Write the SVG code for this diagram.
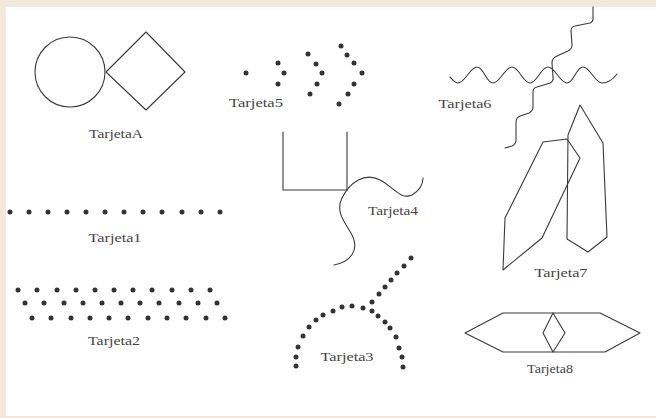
<svg xmlns="http://www.w3.org/2000/svg" width="656" height="418" viewBox="0 0 656 418">
<style>
.ln{fill:none;stroke:#3a3a3a;stroke-width:1.1;stroke-linejoin:round;stroke-linecap:round}
.d{fill:#333}
.t{font-family:"Liberation Serif","Times New Roman",serif;font-size:13px;fill:#444;text-anchor:middle}
</style>
<rect x="0" y="0" width="656" height="418" fill="#f3e8dc"/>
<rect x="6" y="7" width="650" height="409" fill="#ffffff"/>

<g id="tarjetaA">
<circle class="ln" cx="70" cy="72" r="35"/>
<polygon class="ln" points="106,72 146,32 185,72 146,110"/>
<text class="t" x="116" y="138" textLength="54" lengthAdjust="spacingAndGlyphs">TarjetaA</text>
</g>

<g id="tarjeta5">
<circle class="d" cx="246" cy="73" r="2.5"/>
<circle class="d" cx="278" cy="63" r="2.5"/>
<circle class="d" cx="284" cy="73" r="2.5"/>
<circle class="d" cx="278" cy="84" r="2.5"/>
<circle class="d" cx="308" cy="54" r="2.5"/>
<circle class="d" cx="316" cy="64" r="2.5"/>
<circle class="d" cx="322" cy="73" r="2.5"/>
<circle class="d" cx="317" cy="84" r="2.5"/>
<circle class="d" cx="310" cy="94" r="2.5"/>
<circle class="d" cx="341" cy="46" r="2.5"/>
<circle class="d" cx="347" cy="55" r="2.5"/>
<circle class="d" cx="354" cy="63" r="2.5"/>
<circle class="d" cx="362" cy="73" r="2.5"/>
<circle class="d" cx="354" cy="84" r="2.5"/>
<circle class="d" cx="348" cy="94" r="2.5"/>
<circle class="d" cx="339" cy="104" r="2.5"/>
<text class="t" x="256" y="107" textLength="54" lengthAdjust="spacingAndGlyphs">Tarjeta5</text>
</g>

<g id="tarjeta6">
<path class="ln" d="M450,77 C453,80 455,83 458,83 C465,83 470,67 477,67 S486,83 493,83 S505,67 512,67 S523,83 530,83 S541,67 548,67 S560,83 567,83 S576,67 583,67 S595,83 602,83 S614,78 617,74"/>
<path class="ln" d="M593,7 L593,19 Q593,22 590,23 L575,26 Q571,27 571,31 L572,45 Q572,49 568,51 L557,56 Q552,58 552,63 L553,77 Q554,81 550,83 L537,87 Q533,88 533,92 L533,107 Q533,111 529,113 L520,116 Q516,118 516,122 L516,140 Q516,144 512,146 L505,148"/>
<text class="t" x="465" y="108" textLength="53" lengthAdjust="spacingAndGlyphs">Tarjeta6</text>
</g>

<g id="tarjeta1">
<circle class="d" cx="10" cy="212" r="2.5"/>
<circle class="d" cx="29" cy="212" r="2.5"/>
<circle class="d" cx="48" cy="212" r="2.5"/>
<circle class="d" cx="67" cy="212" r="2.5"/>
<circle class="d" cx="86" cy="212" r="2.5"/>
<circle class="d" cx="105" cy="212" r="2.5"/>
<circle class="d" cx="124" cy="212" r="2.5"/>
<circle class="d" cx="143" cy="212" r="2.5"/>
<circle class="d" cx="162" cy="212" r="2.5"/>
<circle class="d" cx="182" cy="212" r="2.5"/>
<circle class="d" cx="201" cy="212" r="2.5"/>
<circle class="d" cx="220" cy="212" r="2.5"/>
<text class="t" x="115" y="242" textLength="53" lengthAdjust="spacingAndGlyphs">Tarjeta1</text>
</g>

<g id="tarjeta4">
<path class="ln" d="M283,132 V190 H347 V132"/>
<path class="ln" d="M334,265 C350,262 360,250 352,235 C345,222 335,212 342,198 C350,182 365,172 380,180 C395,188 400,200 412,195 C420,190 423,183 423,178"/>
<text class="t" x="393" y="215" textLength="50" lengthAdjust="spacingAndGlyphs">Tarjeta4</text>
</g>

<g id="tarjeta7">
<polygon class="ln" points="580,105 603,143 607,237 588,252 567,239 568,135"/>
<polygon class="ln" points="543,142 567,139 580,158 542,238 503,270 505,218"/>
<text class="t" x="561" y="277" textLength="53" lengthAdjust="spacingAndGlyphs">Tarjeta7</text>
</g>

<g id="tarjeta2">
<circle class="d" cx="18" cy="290" r="2.5"/>
<circle class="d" cx="37" cy="290" r="2.5"/>
<circle class="d" cx="57" cy="290" r="2.5"/>
<circle class="d" cx="76" cy="290" r="2.5"/>
<circle class="d" cx="95" cy="290" r="2.5"/>
<circle class="d" cx="114" cy="290" r="2.5"/>
<circle class="d" cx="133" cy="290" r="2.5"/>
<circle class="d" cx="152" cy="290" r="2.5"/>
<circle class="d" cx="172" cy="290" r="2.5"/>
<circle class="d" cx="191" cy="290" r="2.5"/>
<circle class="d" cx="210" cy="290" r="2.5"/>
<circle class="d" cx="25" cy="303" r="2.5"/>
<circle class="d" cx="44" cy="303" r="2.5"/>
<circle class="d" cx="64" cy="303" r="2.5"/>
<circle class="d" cx="83" cy="303" r="2.5"/>
<circle class="d" cx="102" cy="303" r="2.5"/>
<circle class="d" cx="121" cy="303" r="2.5"/>
<circle class="d" cx="140" cy="303" r="2.5"/>
<circle class="d" cx="159" cy="303" r="2.5"/>
<circle class="d" cx="179" cy="303" r="2.5"/>
<circle class="d" cx="198" cy="303" r="2.5"/>
<circle class="d" cx="217" cy="303" r="2.5"/>
<circle class="d" cx="32" cy="318" r="2.5"/>
<circle class="d" cx="51" cy="318" r="2.5"/>
<circle class="d" cx="71" cy="318" r="2.5"/>
<circle class="d" cx="90" cy="318" r="2.5"/>
<circle class="d" cx="109" cy="318" r="2.5"/>
<circle class="d" cx="128" cy="318" r="2.5"/>
<circle class="d" cx="148" cy="318" r="2.5"/>
<circle class="d" cx="167" cy="318" r="2.5"/>
<circle class="d" cx="186" cy="318" r="2.5"/>
<circle class="d" cx="206" cy="318" r="2.5"/>
<circle class="d" cx="225" cy="318" r="2.5"/>
<text class="t" x="114" y="345" textLength="52" lengthAdjust="spacingAndGlyphs">Tarjeta2</text>
</g>

<g id="tarjeta3">
<circle class="d" cx="296" cy="366" r="2.5"/>
<circle class="d" cx="296" cy="357" r="2.5"/>
<circle class="d" cx="298" cy="347" r="2.5"/>
<circle class="d" cx="303" cy="336" r="2.5"/>
<circle class="d" cx="309" cy="327" r="2.5"/>
<circle class="d" cx="316" cy="320" r="2.5"/>
<circle class="d" cx="323" cy="315" r="2.5"/>
<circle class="d" cx="333" cy="311" r="2.5"/>
<circle class="d" cx="342" cy="307" r="2.5"/>
<circle class="d" cx="352" cy="306" r="2.5"/>
<circle class="d" cx="363" cy="308" r="2.5"/>
<circle class="d" cx="372" cy="311" r="2.5"/>
<circle class="d" cx="378" cy="316" r="2.5"/>
<circle class="d" cx="385" cy="322" r="2.5"/>
<circle class="d" cx="390" cy="328" r="2.5"/>
<circle class="d" cx="396" cy="337" r="2.5"/>
<circle class="d" cx="399" cy="348" r="2.5"/>
<circle class="d" cx="402" cy="357" r="2.5"/>
<circle class="d" cx="403" cy="367" r="2.5"/>
<circle class="d" cx="372" cy="302" r="2.5"/>
<circle class="d" cx="379" cy="294" r="2.5"/>
<circle class="d" cx="385" cy="287" r="2.5"/>
<circle class="d" cx="391" cy="280" r="2.5"/>
<circle class="d" cx="397" cy="273" r="2.5"/>
<circle class="d" cx="404" cy="266" r="2.5"/>
<circle class="d" cx="411" cy="258" r="2.5"/>
<text class="t" x="347" y="361" textLength="53" lengthAdjust="spacingAndGlyphs">Tarjeta3</text>
</g>

<g id="tarjeta8">
<polygon class="ln" points="465,333 503,313 600,313 640,333 605,352 503,352"/>
<polygon class="ln" points="553,313 565,333 553,352 543,333"/>
<text class="t" x="550" y="373" textLength="46" lengthAdjust="spacingAndGlyphs">Tarjeta8</text>
</g>
</svg>
